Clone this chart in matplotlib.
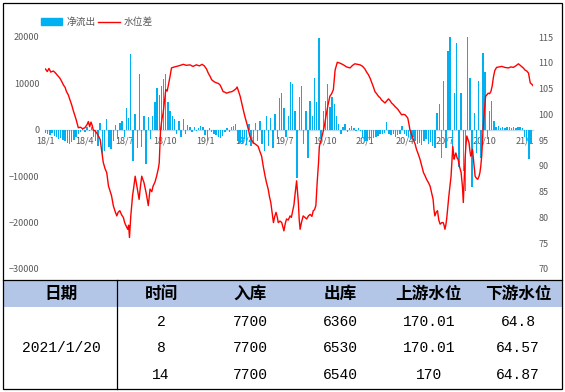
import matplotlib
matplotlib.use('Agg')
import matplotlib.pyplot as plt
import matplotlib.dates as mdates
import matplotlib.ticker as mticker
import numpy as np
import pandas as pd
from matplotlib.patches import Rectangle, Patch
from matplotlib.lines import Line2D

plt.rcParams['font.family'] = ['Noto Sans CJK SC', 'DejaVu Sans']

# ---------------- data ----------------
start_date = '2018-01-01'
bar_step_days = 5
# 净流出 (net outflow), one value per 5 days starting 2018-01-01
net_outflow = [
    -600, -900, -1200, -700, -1300, -1500, -2000, -1800, -2200, -2500, -2800, -3000, -2600, -2200, -1500,
    -800, -400, 300, -500, 600, -300, 500,
    -1500, -2500, -3500, 1500, -5200, -4500, 2300, -3800, -4200, -2500, 1000,
    -2000, 1500, 2000, -1500, 4800, 2500, 16400, -6700, 3400, -4000, 12000, -3800, 3000, -7300, 2700, -2000,
    3000, 6000, 9000, 7500, 9500, 11000, 12000, 6000, 4000, 3000,
    2300, -1000, 2000, -1500, 2300, -800, 1000, 500, -500, 600, -300, 400, 800, 500, -1200, -2400,
    300, -500, -800, -1200, -1600, -1800, -1400, -500, 300, -400, 500, 800, 1200,
    -2400, -2800, -3000, -2000, -3200, 1200, -3500, -3000, 1500, -2400, 2000, -3000, -4500, 3000, -3500, 2500, -4000,
    3500, -2000, 6900, 8000, 4700, -1500, 3000,
    10200, 9800, 4000, -10300, 7000, 9500, -3000, 4000, -6000, 6200, 3000, 11200, 6000, 19800, -2000, 4000,
    6200, 9800, 5000, 7000, 5500, 3000, 1200,
    -1000, 600, 1200, -500, 400, 800, 300, -300, 400, -200, -1500,
    -2500, -2400, -2200, -2000, -1800, -1600, -1400, -1000, -800, -700, 1600,
    -900, -1200, -1000, -1500, -1200, -800, 800, -1000, -1300, -1500,
    -2000, -1600, -2500, -3000, -2800, -3200, -2500, -2000, -3000, -2600, -3500, -4000,
    3700, 5500, -6000, 10500, -4000, 17000, 20000, -4000, 8000, 18800, -8100, 8000, -8800, -13100, 20000,
    11200, -12400, 3700, -5000, 10500, -6000, 16600, 12500, -2000, 4000, 6200, 2000,
    500, 800, 400, 600, 300, 500, 700, 400, 600, 300, 700, 500, 300,
    -1500, -2500, -6300, -3000, -1500,
]

# 水位差 (water-level difference), day offset from 2018-01-01 and value
level_day = [
    0, 4, 8, 12, 18, 22, 28, 33, 37, 41, 45, 48, 52, 56, 60, 64, 67, 70, 75, 80, 85, 90, 95, 98, 101, 104, 107,
    109, 113, 117, 121, 125, 129, 132, 136, 140, 144, 148, 151, 155, 159, 163, 166, 170, 174, 178, 181, 184,
    188, 190, 192, 195, 199, 202, 205, 208, 210, 214, 217, 220, 225, 230, 235, 239, 243, 246, 250, 254, 258,
    260, 263, 266, 269, 272, 275, 278, 281, 285, 288, 295, 300, 308, 315, 322, 330, 337, 345, 352, 358, 363,
    368, 372, 376, 380, 386, 391, 395, 399, 403, 406, 410, 414, 420, 426, 430, 433, 436, 438, 441, 445, 449,
    452, 456, 460, 464, 467, 471, 475, 480, 486, 490, 494, 498, 502, 505, 509, 512, 515, 518, 521, 524, 527,
    530, 532, 536, 540, 543, 545, 548, 551, 555, 559, 562, 565, 568, 570, 574, 576, 578, 580, 582, 585, 589,
    593, 597, 601, 605, 609, 612, 615, 618, 621, 624, 626, 630, 634, 638, 641, 645, 650, 654, 658, 662, 667,
    674, 681, 688, 696, 702, 707, 713, 719, 725, 730, 734, 738, 742, 746, 750, 753, 757, 761, 765, 768, 772,
    776, 780, 784, 788, 791, 795, 799, 803, 806, 810, 814, 818, 822, 825, 828, 831, 833, 837, 841, 845, 848,
    852, 856, 860, 864, 868, 871, 875, 879, 882, 886, 888, 890, 893, 896, 899, 902, 906, 909, 911, 913, 915,
    917, 919, 922, 925, 927, 929, 931, 934, 936, 938, 941, 943, 946, 950, 953, 955, 957, 959, 961, 963, 966,
    968, 970, 972, 974, 976, 979, 982, 985, 988, 991, 993, 995, 997, 999, 1000, 1003, 1006, 1009, 1012, 1015,
    1018, 1021, 1024, 1027, 1031, 1037, 1043, 1050, 1058, 1064, 1069, 1075, 1081, 1085, 1088, 1092, 1096,
    1100, 1104, 1106, 1108, 1112, 1115,
]
level_value = [
    108.8, 108.3, 108.9, 108.2, 108.4, 108.1, 107.5, 107.0, 106.4, 105.7, 105.2, 104.4, 103.8, 102.8, 101.8,
    100.6, 99.8, 99.0, 97.4, 97.5, 97.2, 97.4, 98.0, 98.6, 97.6, 98.5, 97.8,
    97.0, 96.8, 96.4, 95.8, 95.1, 92.5, 90.7, 89.5, 88.7, 86.1, 85.0, 84.2, 82.3, 81.2, 80.3, 81.0, 81.3,
    80.5, 80.0, 79.0, 78.4,
    77.7, 78.5, 76.1, 80.3, 84.2, 86.0, 88.0, 86.5, 85.5, 83.5, 86.0, 88.0, 86.8, 84.8, 82.3, 85.5, 85.0,
    86.1, 86.8, 88.0, 89.5,
    90.6, 97.0, 99.0, 100.3, 102.5, 104.8, 104.5, 105.7, 107.5, 109.0, 109.2, 109.3, 109.5, 109.7, 109.5,
    109.6, 109.3, 109.6, 109.4, 109.7, 109.4,
    108.8, 108.0, 107.4, 106.7, 106.3, 106.1, 106.0, 105.7, 105.0, 104.4, 104.3, 104.1, 104.3, 104.4, 104.6,
    104.8, 105.0, 105.3, 104.5, 103.5, 102.0,
    100.9, 99.5, 98.3, 97.0, 95.8, 95.0, 94.5, 94.2, 93.8, 92.8, 91.9, 89.8, 88.0, 86.8, 85.5, 84.0, 82.9,
    81.0, 79.0, 80.2, 81.0,
    80.0, 79.0, 79.3, 79.0, 78.0, 77.4, 78.8, 79.7, 79.5, 80.3, 80.0, 81.3, 82.5, 84.2, 87.1, 85.0, 82.9,
    79.5, 77.7, 79.0, 80.3,
    80.0, 79.7, 80.3, 80.6, 80.2, 81.3, 81.5, 82.3, 86.8, 90.5, 93.8, 95.0, 96.4, 98.0, 99.6, 101.5, 103.5,
    104.0, 104.8, 108.6, 110.1,
    109.9, 109.6, 109.2, 109.0, 109.5, 109.8, 109.7, 109.6, 109.3, 108.8, 108.2, 107.7, 107.0, 106.1, 105.2,
    104.4, 104.0, 103.5, 103.2, 102.8, 102.5,
    102.2, 102.6, 103.0, 102.6, 102.2, 101.9, 101.5, 101.2, 100.9, 100.4, 99.9, 100.0, 99.9, 99.6, 99.3,
    98.0, 97.0, 96.0, 95.1, 94.2, 93.2,
    92.3, 91.3, 90.0, 88.7, 88.0, 87.4, 86.8, 86.1, 85.0, 83.5, 81.5, 80.3, 81.0, 81.3, 79.5, 78.7, 79.0,
    79.0, 78.5, 77.7, 78.5,
    79.7, 81.5, 84.2, 86.5, 88.0, 91.0, 93.8, 91.3, 92.0, 92.5, 91.5, 91.3, 90.0, 88.7, 86.0, 82.9, 87.0,
    91.3, 94.0, 95.8, 95.0,
    94.5, 93.0, 91.9, 92.5, 93.2, 90.5, 88.0, 87.6, 87.4, 88.0, 88.7, 90.0, 91.9, 95.0, 97.0, 100.5, 103.5,
    103.8, 104.1, 104.0,
    104.4, 105.5, 107.3, 108.5, 109.1, 109.2, 109.3, 109.1, 109.0, 109.2, 109.1, 109.4, 109.8, 109.5, 109.3,
    109.0, 108.6,
    108.4, 108.0, 107.0, 106.1, 105.8, 105.5,
]

left_ticks = [-30000, -20000, -10000, 0, 10000, 20000]
right_ticks = [70, 75, 80, 85, 90, 95, 100, 105, 110, 115]

table_header = ['日期', '时间', '入库', '出库', '上游水位', '下游水位']
table_date = '2021/1/20'
table_hour = ['2', '8', '14']
table_inflow = ['7700', '7700', '7700']
table_outflow = ['6360', '6530', '6540']
table_up = ['170.01', '170.01', '170']
table_down = ['64.8', '64.57', '64.87']

# ---------------- figure ----------------
W, H = 565, 392
fig = plt.figure(figsize=(W / 100, H / 100), dpi=100)
bg = fig.add_axes([0, 0, 1, 1])
bg.set_xlim(0, W)
bg.set_ylim(H, 0)
bg.axis('off')

t0 = pd.Timestamp(start_date)
bar_dates = pd.date_range(t0, periods=len(net_outflow), freq=f'{bar_step_days}D')
level_dates = t0 + pd.to_timedelta(level_day, unit='D')

ax = fig.add_axes([45 / W, 1 - 269 / H, 488 / W, 232 / H])
ax.patch.set_visible(False)
ax.bar(bar_dates, net_outflow, width=3.2, color='#00B0F0', linewidth=0, zorder=2)
ax.set_ylim(-30000, 20000)
ax.set_yticks(left_ticks)
ax.set_xlim(t0 - pd.Timedelta(days=1.1), t0 + pd.Timedelta(days=1114.3))

for s in ['top', 'right', 'left']:
    ax.spines[s].set_visible(False)
ax.spines['bottom'].set_position(('data', 0))
ax.spines['bottom'].set_color('#BDD7EE')
ax.spines['bottom'].set_linewidth(1.0)
ax.spines['bottom'].set_zorder(1)

ax.xaxis.set_major_locator(mdates.MonthLocator(bymonth=[1, 4, 7, 10]))
ax.xaxis.set_major_formatter(mticker.FuncFormatter(
    lambda v, p: f"{mdates.num2date(v).year % 100}/{mdates.num2date(v).month}"))
ax.tick_params(axis='x', length=0, pad=5, labelsize=6.5, labelcolor='#595959')
ax.tick_params(axis='y', length=0, pad=4, labelsize=6.5, labelcolor='#595959')

ax2 = ax.twinx()
ax2.plot(level_dates, level_value, color='#FF0000', lw=1.0, zorder=3)
ax2.set_ylim(70, 115)
ax2.set_yticks(right_ticks)
for s in ax2.spines.values():
    s.set_visible(False)
ax2.tick_params(axis='y', length=0, pad=4, labelsize=6.5, labelcolor='#595959')

fig.legend(handles=[Patch(color='#00B0F0', label='净流出'),
                    Line2D([], [], color='#FF0000', lw=1.0, label='水位差')],
           loc='center left', bbox_to_anchor=(41 / W, 1 - 22 / H), ncol=2, frameon=False,
           fontsize=7, handlelength=2.2, handleheight=0.7, handletextpad=0.4,
           columnspacing=0.3, borderpad=0, borderaxespad=0, labelcolor='#595959')

# ---------------- table ----------------
bg.add_patch(Rectangle((2.5, 280), 559.5, 26.5, facecolor='#B4C6E7', edgecolor='none'))
bg.plot([2.5, 562], [280, 280], color='black', lw=0.9)
bg.plot([117, 117], [280, 389], color='black', lw=0.9)
bg.add_patch(Rectangle((2.5, 2.5), 559.5, 386.5, fill=False, edgecolor='black', lw=0.9))

col_x = [61, 161, 250, 340, 429, 518]
for x, t in zip(col_x, table_header):
    bg.text(x, 293.5, t, ha='center', va='center', fontsize=12, fontweight='bold', color='black')

row_y = [322, 348, 375]
mono = ['Liberation Mono', 'DejaVu Sans Mono']
bg.text(col_x[0], 348, table_date, ha='center', va='center', fontsize=10.5, family=mono, color='black')
for i, y in enumerate(row_y):
    for x, vals in zip(col_x[1:], [table_hour, table_inflow, table_outflow, table_up, table_down]):
        bg.text(x, y, vals[i], ha='center', va='center', fontsize=10.5, family=mono, color='black')

fig.savefig('out.png', dpi=100)
